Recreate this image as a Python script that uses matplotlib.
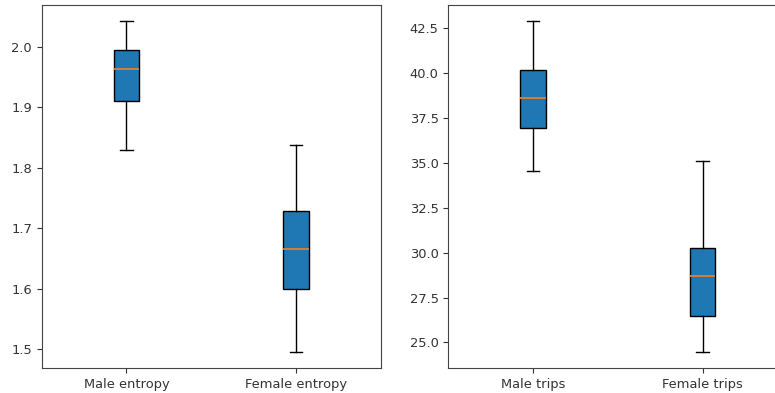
import matplotlib
matplotlib.use("Agg")
import matplotlib.pyplot as plt

# five-number summaries: low whisker, Q1, median, Q3, high whisker
entropy_labels = ["Male entropy", "Female entropy"]
entropy_low = [1.830, 1.496]
entropy_q1 = [1.910, 1.600]
entropy_med = [1.964, 1.666]
entropy_q3 = [1.9955, 1.728]
entropy_high = [2.0423, 1.8385]

trips_labels = ["Male trips", "Female trips"]
trips_low = [34.53, 24.48]
trips_q1 = [36.93, 26.50]
trips_med = [38.64, 28.72]
trips_q3 = [40.18, 30.28]
trips_high = [42.89, 35.13]


def make_stats(labels, low, q1, med, q3, high):
    return [
        dict(label=l, whislo=a, q1=b, med=c, q3=d, whishi=e, fliers=[])
        for l, a, b, c, d, e in zip(labels, low, q1, med, q3, high)
    ]


plt.rcParams["font.size"] = 9.4

fig = plt.figure(figsize=(7.75, 3.93), dpi=100)
ax1 = fig.add_axes([0.0538, 0.0628, 0.4374, 0.925])
ax2 = fig.add_axes([0.5785, 0.0628, 0.4374, 0.925])

for ax, st in [
    (ax1, make_stats(entropy_labels, entropy_low, entropy_q1, entropy_med, entropy_q3, entropy_high)),
    (ax2, make_stats(trips_labels, trips_low, trips_q1, trips_med, trips_q3, trips_high)),
]:
    ax.bxp(st, widths=0.15, patch_artist=True, showfliers=False,
           boxprops=dict(facecolor="#1f77b4", edgecolor="black"),
           medianprops=dict(color="#e67e22", linewidth=1.3))
    ax.set_xlim(0.5, 2.5)
    ax.tick_params(colors="#333333", labelcolor="#333333")
    for s in ax.spines.values():
        s.set_color("#444444")

ax1.set_yticks([1.5, 1.6, 1.7, 1.8, 1.9, 2.0])
ax2.set_yticks([25.0, 27.5, 30.0, 32.5, 35.0, 37.5, 40.0, 42.5])

fig.savefig("out.png", dpi=100)
